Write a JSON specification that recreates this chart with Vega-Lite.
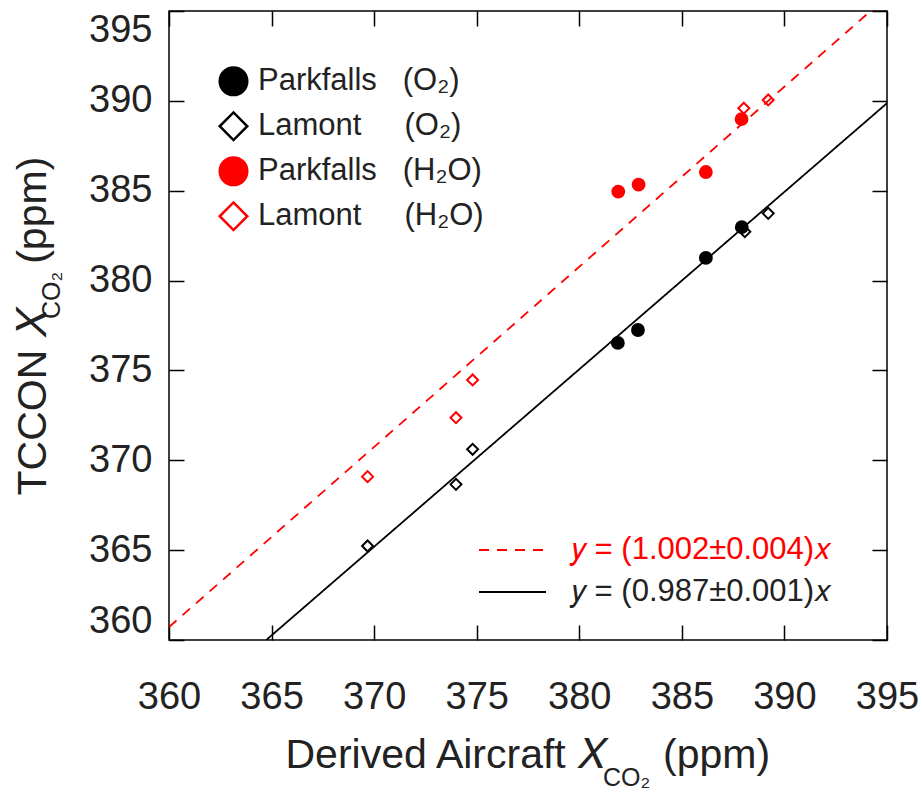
{
  "$schema": "https://vega.github.io/schema/vega-lite/v6.json",
  "width": 718,
  "height": 629,
  "autosize": {"type": "none"},
  "padding": {"left": 169, "top": 11, "right": 35, "bottom": 154},
  "background": "white",
  "config": {
    "view": {"stroke": "#000000", "strokeWidth": 1.5},
    "axis": {
      "grid": false,
      "domain": false,
      "tickColor": "#000000",
      "tickWidth": 1.5,
      "labelFont": "Liberation Sans",
      "titleFont": "Liberation Sans",
      "labelColor": "#222222",
      "titleColor": "#222222",
      "labelFontSize": 38,
      "titleFontSize": 41,
      "titleFontWeight": "normal"
    },
    "legend": {
      "labelFont": "Liberation Sans",
      "labelColor": "#222222",
      "labelLimit": 600,
      "padding": 0
    }
  },
  "layer": [
    {
      "data": {"values": [
        {"fit": "𝑦 = (1.002±0.004)𝑥", "aircraft": 360, "tccon": 360.72},
        {"fit": "𝑦 = (1.002±0.004)𝑥", "aircraft": 394.2, "tccon": 395},
        {"fit": "𝑦 = (0.987±0.001)𝑥", "aircraft": 364.74, "tccon": 360},
        {"fit": "𝑦 = (0.987±0.001)𝑥", "aircraft": 395, "tccon": 389.87}
      ]},
      "mark": {"type": "line", "strokeWidth": 1.8, "clip": true},
      "encoding": {
        "x": {
          "field": "aircraft", "type": "quantitative",
          "scale": {"domain": [360, 395], "nice": false, "zero": false},
          "axis": {
            "orient": "top", "labels": false, "ticks": true, "tickSize": -15,
            "values": [360, 365, 370, 375, 380, 385, 390, 395],
            "title": "CO₂", "titleFontSize": 25, "titleX": 457, "titleY": 774,
            "titleAlign": "center", "titleBaseline": "alphabetic", "titleAngle": 0
          }
        },
        "y": {
          "field": "tccon", "type": "quantitative",
          "scale": {"domain": [360, 395], "nice": false, "zero": false},
          "axis": {
            "orient": "right", "labels": false, "ticks": true, "tickSize": -15,
            "values": [360, 365, 370, 375, 380, 385, 390, 395],
            "title": "CO₂", "titleFontSize": 25, "titleAngle": -90,
            "titleX": -828, "titleY": 284, "titleAlign": "center", "titleBaseline": "alphabetic"
          }
        },
        "color": {
          "field": "fit", "type": "nominal",
          "scale": {"domain": ["𝑦 = (1.002±0.004)𝑥", "𝑦 = (0.987±0.001)𝑥"], "range": ["#ff0000", "#000000"]},
          "legend": {
            "title": null, "orient": "none", "legendX": 309, "legendY": 518,
            "symbolType": "stroke", "symbolSize": 4489, "symbolStrokeWidth": 2,
            "labelFontSize": 31, "labelOffset": 25, "clipHeight": 42, "rowPadding": 0,
            "encode": {"labels": {"update": {"fill": {"signal": "indexof(datum.label, '1.002') >= 0 ? '#ff0000' : '#222222'"}}}}
          }
        },
        "strokeDash": {
          "field": "fit", "type": "nominal",
          "scale": {"domain": ["𝑦 = (1.002±0.004)𝑥", "𝑦 = (0.987±0.001)𝑥"], "range": [[10, 8], [1, 0]]}
        }
      }
    },
    {
      "data": {"values": [
        {"series": "Parkfalls\u00a0\u00a0\u00a0(O₂)", "marker": "circle", "aircraft": 381.88, "tccon": 376.53},
        {"series": "Parkfalls\u00a0\u00a0\u00a0(O₂)", "marker": "circle", "aircraft": 382.86, "tccon": 377.25},
        {"series": "Parkfalls\u00a0\u00a0\u00a0(O₂)", "marker": "circle", "aircraft": 386.17, "tccon": 381.26},
        {"series": "Parkfalls\u00a0\u00a0\u00a0(O₂)", "marker": "circle", "aircraft": 387.92, "tccon": 382.97},
        {"series": "Lamont\u00a0\u00a0\u00a0\u00a0\u00a0(O₂)", "marker": "diamond", "aircraft": 369.68, "tccon": 365.23},
        {"series": "Lamont\u00a0\u00a0\u00a0\u00a0\u00a0(O₂)", "marker": "diamond", "aircraft": 373.99, "tccon": 368.66},
        {"series": "Lamont\u00a0\u00a0\u00a0\u00a0\u00a0(O₂)", "marker": "diamond", "aircraft": 374.8, "tccon": 370.61},
        {"series": "Lamont\u00a0\u00a0\u00a0\u00a0\u00a0(O₂)", "marker": "diamond", "aircraft": 388.07, "tccon": 382.72},
        {"series": "Lamont\u00a0\u00a0\u00a0\u00a0\u00a0(O₂)", "marker": "diamond", "aircraft": 389.21, "tccon": 383.74},
        {"series": "Parkfalls\u00a0\u00a0\u00a0(H₂O)", "marker": "circle", "aircraft": 381.9, "tccon": 384.95},
        {"series": "Parkfalls\u00a0\u00a0\u00a0(H₂O)", "marker": "circle", "aircraft": 382.89, "tccon": 385.34},
        {"series": "Parkfalls\u00a0\u00a0\u00a0(H₂O)", "marker": "circle", "aircraft": 386.17, "tccon": 386.04},
        {"series": "Parkfalls\u00a0\u00a0\u00a0(H₂O)", "marker": "circle", "aircraft": 387.91, "tccon": 388.98},
        {"series": "Lamont\u00a0\u00a0\u00a0\u00a0\u00a0(H₂O)", "marker": "diamond", "aircraft": 369.68, "tccon": 369.09},
        {"series": "Lamont\u00a0\u00a0\u00a0\u00a0\u00a0(H₂O)", "marker": "diamond", "aircraft": 373.99, "tccon": 372.37},
        {"series": "Lamont\u00a0\u00a0\u00a0\u00a0\u00a0(H₂O)", "marker": "diamond", "aircraft": 374.8, "tccon": 374.47},
        {"series": "Lamont\u00a0\u00a0\u00a0\u00a0\u00a0(H₂O)", "marker": "diamond", "aircraft": 388.02, "tccon": 389.59},
        {"series": "Lamont\u00a0\u00a0\u00a0\u00a0\u00a0(H₂O)", "marker": "diamond", "aircraft": 389.21, "tccon": 390.05}
      ]},
      "mark": {"type": "point", "strokeWidth": 2, "opacity": 1},
      "encoding": {
        "x": {
          "field": "aircraft", "type": "quantitative",
          "scale": {"domain": [360, 395], "nice": false, "zero": false},
          "axis": {
            "orient": "bottom", "tickSize": -15, "labelPadding": 53, "labelFlush": false,
            "values": [360, 365, 370, 375, 380, 385, 390, 395],
            "title": "Derived Aircraft 𝑋\u00a0\u00a0\u00a0\u00a0\u00a0(ppm)",
            "titleAlign": "left", "titleX": 116, "titleY": 127, "titleBaseline": "alphabetic"
          }
        },
        "y": {
          "field": "tccon", "type": "quantitative",
          "scale": {"domain": [360, 395], "nice": false, "zero": false},
          "axis": {
            "orient": "left", "tickSize": -15, "labelPadding": 32, "labelFlush": true,
            "values": [360, 365, 370, 375, 380, 385, 390, 395],
            "title": "TCCON 𝑋\u00a0\u00a0\u00a0\u00a0(ppm)", "titleAngle": -90,
            "titleAlign": "left", "titleX": -124, "titleY": 484, "titleBaseline": "alphabetic"
          }
        },
        "shape": {
          "field": "series", "type": "nominal",
          "scale": {"domain": ["Parkfalls\u00a0\u00a0\u00a0(O₂)", "Lamont\u00a0\u00a0\u00a0\u00a0\u00a0(O₂)", "Parkfalls\u00a0\u00a0\u00a0(H₂O)", "Lamont\u00a0\u00a0\u00a0\u00a0\u00a0(H₂O)"], "range": ["circle", "diamond", "circle", "diamond"]},
          "legend": {
            "title": null, "orient": "none", "legendX": 49, "legendY": 48,
            "symbolSize": 760, "symbolStrokeWidth": 2.5, "labelFontSize": 31,
            "labelOffset": 9, "clipHeight": 44.5, "rowPadding": 0
          }
        },
        "stroke": {
          "field": "series", "type": "nominal",
          "scale": {"domain": ["Parkfalls\u00a0\u00a0\u00a0(O₂)", "Lamont\u00a0\u00a0\u00a0\u00a0\u00a0(O₂)", "Parkfalls\u00a0\u00a0\u00a0(H₂O)", "Lamont\u00a0\u00a0\u00a0\u00a0\u00a0(H₂O)"], "range": ["#000000", "#000000", "#ff0000", "#ff0000"]}
        },
        "fill": {
          "field": "series", "type": "nominal",
          "scale": {"domain": ["Parkfalls\u00a0\u00a0\u00a0(O₂)", "Lamont\u00a0\u00a0\u00a0\u00a0\u00a0(O₂)", "Parkfalls\u00a0\u00a0\u00a0(H₂O)", "Lamont\u00a0\u00a0\u00a0\u00a0\u00a0(H₂O)"], "range": ["#000000", "transparent", "#ff0000", "transparent"]}
        },
        "size": {
          "field": "marker", "type": "nominal",
          "scale": {"domain": ["circle", "diamond"], "range": [140, 120]},
          "legend": null
        }
      }
    }
  ],
  "resolve": {"axis": {"x": "independent", "y": "independent"}}
}
